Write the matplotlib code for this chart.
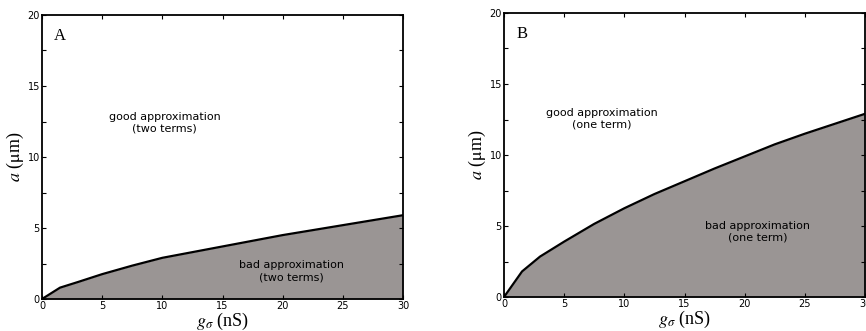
import numpy as np
import matplotlib.pyplot as plt
from matplotlib.ticker import MultipleLocator

plt.rcParams['mathtext.fontset'] = 'stix'

# boundary between good / bad approximation
g_sigma = [0, 1.5, 3, 5, 7.5, 10, 12.5, 15, 17.5, 20, 22.5, 25, 27.5, 30]
a_two_terms = [0, 0.8, 1.2, 1.75, 2.35, 2.9, 3.3, 3.7, 4.1, 4.5, 4.85, 5.2, 5.55, 5.9]
a_one_term = [0, 1.8, 2.85, 3.9, 5.15, 6.25, 7.25, 8.15, 9.05, 9.9, 10.75, 11.5, 12.2, 12.9]

panels = ['A', 'B']
curves = [a_two_terms, a_one_term]
terms = ['(two terms)', '(one term)']
good_pos = [(10.2, 12.4), (8.1, 12.55)]
bad_pos = [(20.7, 1.95), (21.1, 4.6)]

fill_color = '#9a9594'

fig = plt.figure(figsize=(8.66, 3.31), dpi=100)
axes_rects = [[42/866, 1 - 299/331, 361/866, 284/331],
              [504/866, 1 - 297/331, 361/866, 284/331]]

for rect, letter, a, term, gp, bp in zip(axes_rects, panels, curves, terms, good_pos, bad_pos):
    ax = fig.add_axes(rect)
    ax.fill_between(g_sigma, 0, a, color=fill_color, lw=0)
    ax.plot(g_sigma, a, color='black', lw=1.6)
    ax.set_xlim(0, 30)
    ax.set_ylim(0, 20)
    ax.xaxis.set_major_locator(MultipleLocator(5))
    ax.yaxis.set_major_locator(MultipleLocator(5))
    ax.yaxis.set_minor_locator(MultipleLocator(2.5))
    ax.tick_params(direction='in', top=True, right=True, which='both',
                   labelsize=7, pad=1.5, length=3, width=0.8)
    ax.tick_params(which='minor', length=3)
    for s in ax.spines.values():
        s.set_linewidth(1.3)
    ax.text(gp[0], gp[1], 'good approximation\n' + term, ha='center', va='center',
            fontsize=8, family='DejaVu Sans', linespacing=1.25)
    ax.text(bp[0], bp[1], 'bad approximation\n' + term, ha='center', va='center',
            fontsize=8, family='DejaVu Sans', linespacing=1.25)
    ax.text(1.0, 18.5, letter, fontsize=12, family='Liberation Serif', va='center')
    ax.set_xlabel(r'$g_\sigma$ (nS)', fontsize=13, family='Liberation Serif', labelpad=0)
    ax.set_ylabel(r'$a$ ($\mathrm{\mu}$m)', fontsize=13, family='Liberation Serif', labelpad=1)

fig.savefig('out.png', dpi=100)
